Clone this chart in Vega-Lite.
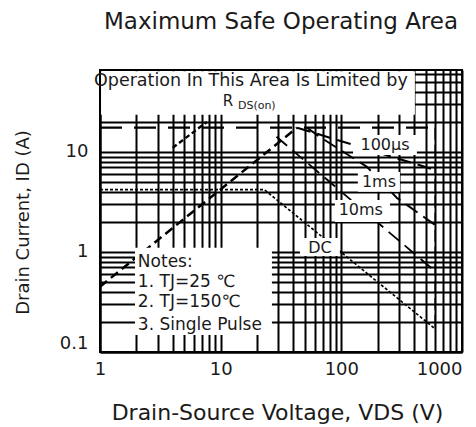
{
  "$schema": "https://vega.github.io/schema/vega-lite/v6.json",
  "width": 362,
  "height": 282,
  "autosize": {"type": "none"},
  "padding": {"left": 100, "top": 70, "right": 14, "bottom": 75},
  "background": "white",
  "config": {"view": {"stroke": "black", "strokeWidth": 2}},
  "title": {"text": "Maximum Safe Operating Area", "font": "DejaVu Sans", "fontSize": 23, "fontWeight": "normal", "color": "#1a1a1a", "anchor": "middle", "frame": "group", "baseline": "alphabetic", "offset": 13},
  "datasets": {
    "curves": [
      {"series": "rds", "V": 1, "I": 0.45, "o": 0},
      {"series": "rds", "V": 43, "I": 17.5, "o": 1},
      {"series": "rds25", "V": 4.0, "I": 11, "o": 0},
      {"series": "rds25", "V": 7.7, "I": 20, "o": 1},
      {"series": "idm", "V": 1, "I": 17.5, "o": 0},
      {"series": "idm", "V": 600, "I": 17.5, "o": 1},
      {"series": "p100us", "V": 43, "I": 17.5, "o": 0},
      {"series": "p100us", "V": 600, "I": 6.6, "o": 1},
      {"series": "p1ms", "V": 52, "I": 17.5, "o": 0},
      {"series": "p1ms", "V": 66.5, "I": 14.1, "o": 1},
      {"series": "p1ms", "V": 163, "I": 7.1, "o": 2},
      {"series": "p1ms", "V": 289, "I": 3.47, "o": 3},
      {"series": "p1ms", "V": 600, "I": 1.86, "o": 4},
      {"series": "p10ms", "V": 29, "I": 14.2, "o": 0},
      {"series": "p10ms", "V": 600, "I": 0.64, "o": 1},
      {"series": "dc", "V": 1, "I": 4.2, "o": 0},
      {"series": "dc", "V": 23, "I": 4.2, "o": 1},
      {"series": "dc", "V": 600, "I": 0.17, "o": 2},
      {"series": "vdss", "V": 600, "I": 17.5, "o": 0},
      {"series": "vdss", "V": 600, "I": 0.17, "o": 1}
    ],
    "boxes": [
      {"x1": 1.02, "x2": 407, "y1": 23.5, "y2": 64},
      {"x1": 1.95, "x2": 26.6, "y1": 0.148, "y2": 1.1},
      {"x1": 125, "x2": 423, "y1": 9.3, "y2": 14.8},
      {"x1": 137, "x2": 306, "y1": 4.0, "y2": 6.3},
      {"x1": 88.5, "x2": 253, "y1": 2.0, "y2": 3.3},
      {"x1": 45.4, "x2": 97.3, "y1": 0.91, "y2": 1.38}
    ],
    "head": [
      {"t": "Operation In This Area Is Limited by", "V": 17.8, "I": 51}
    ],
    "rsym": [
      {"t": "R", "V": 11.5, "I": 32.5}
    ],
    "sub": [
      {"t": "DS(on)", "V": 13.9, "I": 29}
    ],
    "tags": [
      {"t": "100µs", "V": 230, "I": 11.7},
      {"t": "1ms", "V": 205, "I": 5.0},
      {"t": "10ms", "V": 145, "I": 2.63},
      {"t": "DC", "V": 66.5, "I": 1.1}
    ],
    "notes": [
      {"t": "Notes:", "V": 2.06, "I": 0.79},
      {"t": "1.  TJ=25 ℃", "V": 2.06, "I": 0.5},
      {"t": "2. TJ=150℃", "V": 2.06, "I": 0.316},
      {"t": "3. Single Pulse", "V": 2.06, "I": 0.186}
    ]
  },
  "layer": [
    {
      "data": {"name": "curves"},
      "mark": {"type": "line", "color": "black", "clip": true},
      "encoding": {
        "x": {
          "field": "V", "type": "quantitative",
          "scale": {"type": "log", "domain": [1, 1000], "nice": false},
          "axis": {
            "values": [1,2,3,4,5,6,7,8,9,10,20,30,40,50,60,70,80,90,100,200,300,400,500,600,700,800,900,1000],
            "labelExpr": "datum.value == 1 ? '1' : datum.value == 10 ? '10' : datum.value == 100 ? '100' : datum.value == 1000 ? '1000' : ''",
            "labelOverlap": false, "labelBound": false, "labelFlush": false,
            "ticks": false, "grid": true, "gridColor": "black", "gridWidth": 2, "gridOpacity": 1,
            "domainColor": "black", "domainWidth": 2,
            "labelFont": "DejaVu Sans", "labelFontSize": 18, "labelColor": "#1a1a1a", "labelPadding": 8,
            "labelAlign": {"condition": {"test": "datum.value >= 1000", "value": "right"}, "value": "center"},
            "title": "Drain-Source Voltage, VDS (V)", "titleFont": "DejaVu Sans", "titleFontSize": 22, "titleFontWeight": "normal", "titleColor": "#1a1a1a",
            "titleX": 177, "titleY": 60, "titleBaseline": "middle", "titleAlign": "center"
          }
        },
        "y": {
          "field": "I", "type": "quantitative",
          "scale": {"type": "log", "domain": [0.1, 66], "nice": false},
          "axis": {
            "values": [0.1,0.2,0.3,0.4,0.5,0.6,0.7,0.8,0.9,1,2,3,4,5,6,7,8,9,10,20,30,40,50,60],
            "labelExpr": "datum.value == 0.1 ? '0.1' : datum.value == 1 ? '1' : datum.value == 10 ? '10' : ''",
            "labelOverlap": false, "labelBound": false, "labelFlush": false,
            "ticks": false, "grid": true, "gridColor": "black", "gridWidth": 2, "gridOpacity": 1,
            "domainColor": "black", "domainWidth": 2,
            "labelFont": "DejaVu Sans", "labelFontSize": 18, "labelColor": "#1a1a1a", "labelPadding": 12,
            "labelBaseline": {"condition": {"test": "datum.value < 0.2", "value": "bottom"}, "value": "middle"},
            "title": "Drain Current, ID (A)", "titleFont": "DejaVu Sans", "titleFontSize": 18, "titleFontWeight": "normal", "titleColor": "#1a1a1a",
            "titleX": -77, "titleY": 152, "titleBaseline": "middle", "titleAlign": "center", "titleAngle": -90
          }
        },
        "detail": {"field": "series"},
        "order": {"field": "o"},
        "strokeDash": {
          "field": "series", "type": "nominal",
          "scale": {"domain": ["rds","rds25","idm","p100us","p1ms","p10ms","dc","vdss"],
                    "range": [[9,5],[5,3],[22,12],[14,7],[14,7],[14,7],[3,2],[12,5]]},
          "legend": null
        },
        "strokeWidth": {
          "field": "series", "type": "ordinal",
          "scale": {"domain": ["rds","rds25","idm","p100us","p1ms","p10ms","dc","vdss"],
                    "range": [2.5,1.5,3,3,3,3,3,3]},
          "legend": null
        }
      }
    },
    {
      "data": {"name": "boxes"},
      "mark": {"type": "rect", "fill": "white", "stroke": null},
      "encoding": {
        "x": {"field": "x1", "type": "quantitative"},
        "x2": {"field": "x2"},
        "y": {"field": "y1", "type": "quantitative"},
        "y2": {"field": "y2"}
      }
    },
    {
      "data": {"name": "head"},
      "mark": {"type": "text", "font": "DejaVu Sans", "fontSize": 17.5, "color": "#1a1a1a", "align": "center", "baseline": "middle"},
      "encoding": {"x": {"field": "V", "type": "quantitative"}, "y": {"field": "I", "type": "quantitative"}, "text": {"field": "t"}}
    },
    {
      "data": {"name": "rsym"},
      "mark": {"type": "text", "font": "DejaVu Sans", "fontSize": 15, "color": "#1a1a1a", "align": "center", "baseline": "middle"},
      "encoding": {"x": {"field": "V", "type": "quantitative"}, "y": {"field": "I", "type": "quantitative"}, "text": {"field": "t"}}
    },
    {
      "data": {"name": "sub"},
      "mark": {"type": "text", "font": "DejaVu Sans", "fontSize": 11, "color": "#1a1a1a", "align": "left", "baseline": "middle"},
      "encoding": {"x": {"field": "V", "type": "quantitative"}, "y": {"field": "I", "type": "quantitative"}, "text": {"field": "t"}}
    },
    {
      "data": {"name": "tags"},
      "mark": {"type": "text", "font": "DejaVu Sans", "fontSize": 16, "color": "#1a1a1a", "align": "center", "baseline": "middle"},
      "encoding": {"x": {"field": "V", "type": "quantitative"}, "y": {"field": "I", "type": "quantitative"}, "text": {"field": "t"}}
    },
    {
      "data": {"name": "notes"},
      "mark": {"type": "text", "font": "DejaVu Sans", "fontSize": 17, "color": "#1a1a1a", "align": "left", "baseline": "middle"},
      "encoding": {"x": {"field": "V", "type": "quantitative"}, "y": {"field": "I", "type": "quantitative"}, "text": {"field": "t"}}
    }
  ]
}
